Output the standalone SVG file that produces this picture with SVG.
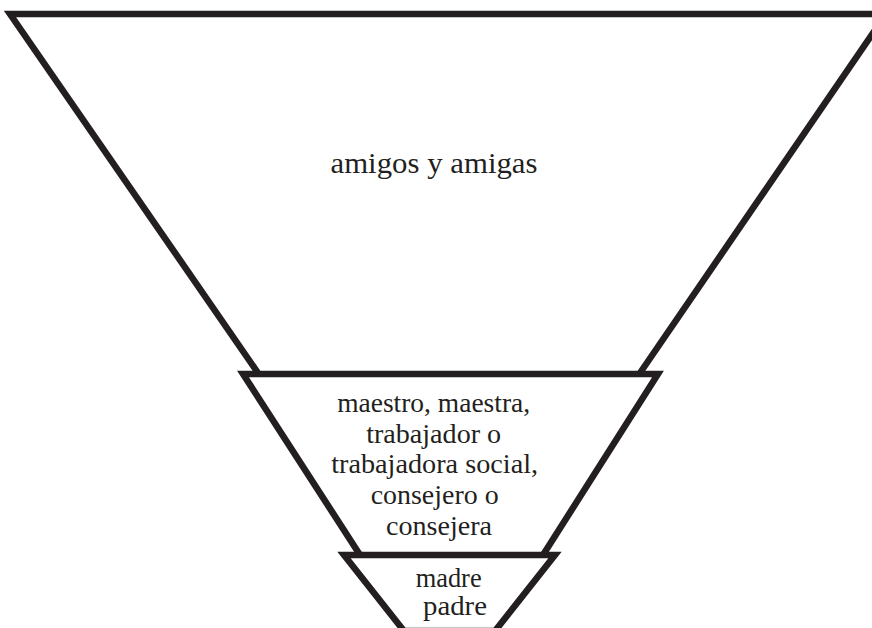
<svg xmlns="http://www.w3.org/2000/svg" width="872" height="628" viewBox="0 0 872 628">
<style>
.edge{fill:none;stroke:#231f20;stroke-width:6.5;stroke-linejoin:miter;stroke-miterlimit:10}
.lbl{font-family:"Liberation Serif","Times New Roman",serif;fill:#231f20;text-anchor:middle}
</style>
<rect width="872" height="628" fill="#ffffff"/>
<g id="amigos">
<polyline class="edge" points="258,373 10,14 886,14 640,373"/>
<text class="lbl" x="434" y="173" font-size="29" textLength="207" lengthAdjust="spacingAndGlyphs">amigos y amigas</text>
</g>
<g id="maestro">
<polyline class="edge" points="360,555 243,374 658,374 543,555"/>
<text class="lbl" font-size="27">
<tspan x="437" y="412" textLength="193" lengthAdjust="spacingAndGlyphs">maestro, maestra,</tspan>
<tspan x="437" y="443" textLength="135" lengthAdjust="spacingAndGlyphs">trabajador o</tspan>
<tspan x="438" y="473" textLength="207" lengthAdjust="spacingAndGlyphs">trabajadora social,</tspan>
<tspan x="438" y="504" textLength="128" lengthAdjust="spacingAndGlyphs">consejero o</tspan>
<tspan x="439" y="535" textLength="106" lengthAdjust="spacingAndGlyphs">consejera</tspan>
</text>
</g>
<g id="madre">
<polygon class="edge" points="344,555 555,555 495,631 404,631"/>
<text class="lbl" font-size="27">
<tspan x="452" y="587" textLength="66" lengthAdjust="spacingAndGlyphs">madre</tspan>
<tspan x="455" y="615" textLength="64" lengthAdjust="spacingAndGlyphs">padre</tspan>
</text>
</g>
<g id="connectors"></g>
</svg>
